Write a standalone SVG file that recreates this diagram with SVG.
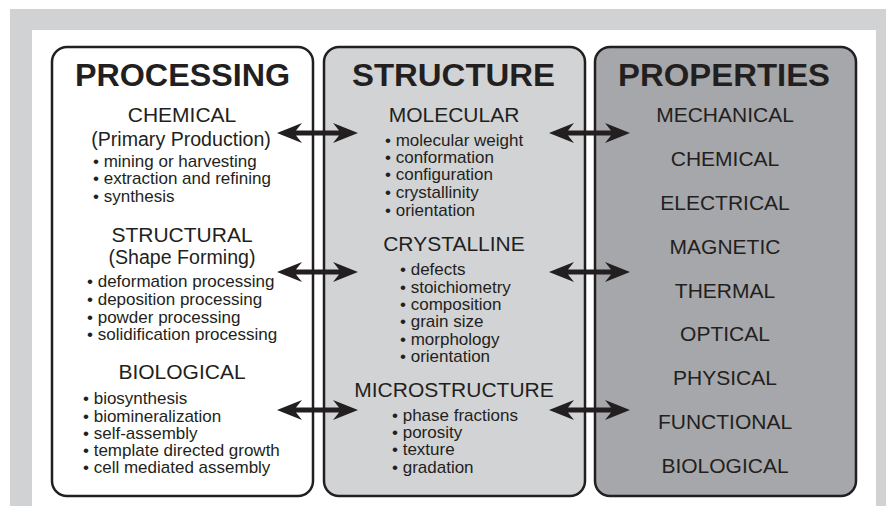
<svg xmlns="http://www.w3.org/2000/svg" width="886" height="506" viewBox="0 0 886 506">
<style>
.box{stroke:#231f20;stroke-width:2.5}
text{font-family:"Liberation Sans",Arial,sans-serif;fill:#231f20}
.t{font-weight:bold;font-size:32px;text-anchor:middle}
.h{font-size:21px;text-anchor:middle}
.p{font-size:19.6px;text-anchor:middle}
.b{font-size:17px}
.arrow{fill:#231f20}
</style>
<defs>
<path id="dbl" d="M0,0 L25,-10 L19,-2.5 L62,-2.5 L56,-10 L81,0 L56,10 L62,2.5 L19,2.5 L25,10 Z"/>
</defs>
<rect x="0" y="0" width="886" height="506" fill="#ffffff"/>
<rect x="10" y="9" width="876" height="497" fill="#d1d2d4"/>
<rect x="32" y="30" width="844" height="476" fill="#ffffff"/>

<g id="processing">
<rect class="box" x="52" y="47" width="261" height="449" rx="15" fill="#ffffff"/>
<text class="t" x="182.5" y="86" textLength="215" lengthAdjust="spacingAndGlyphs">PROCESSING</text>
<text class="h" x="182" y="122">CHEMICAL</text>
<text class="p" x="181" y="146">(Primary Production)</text>
<text class="b"><tspan x="93" y="167">• mining or harvesting</tspan><tspan x="93" y="184">• extraction and refining</tspan><tspan x="93" y="202">• synthesis</tspan></text>
<text class="h" x="182" y="242">STRUCTURAL</text>
<text class="p" x="182" y="264">(Shape Forming)</text>
<text class="b"><tspan x="87" y="287">• deformation processing</tspan><tspan x="87" y="305">• deposition processing</tspan><tspan x="87" y="323">• powder processing</tspan><tspan x="87" y="340">• solidification processing</tspan></text>
<text class="h" x="182" y="379">BIOLOGICAL</text>
<text class="b"><tspan x="83" y="404">• biosynthesis</tspan><tspan x="83" y="422">• biomineralization</tspan><tspan x="83" y="439">• self-assembly</tspan><tspan x="83" y="456">• template directed growth</tspan><tspan x="83" y="473">• cell mediated assembly</tspan></text>
</g>

<g id="structure">
<rect class="box" x="324" y="47" width="261" height="449" rx="15" fill="#d2d3d5"/>
<text class="t" x="453.5" y="86" textLength="203" lengthAdjust="spacingAndGlyphs">STRUCTURE</text>
<text class="h" x="454" y="122">MOLECULAR</text>
<text class="b"><tspan x="385" y="146">• molecular weight</tspan><tspan x="385" y="163">• conformation</tspan><tspan x="385" y="180">• configuration</tspan><tspan x="385" y="198">• crystallinity</tspan><tspan x="385" y="216">• orientation</tspan></text>
<text class="h" x="454" y="251">CRYSTALLINE</text>
<text class="b"><tspan x="400" y="275">• defects</tspan><tspan x="400" y="293">• stoichiometry</tspan><tspan x="400" y="310">• composition</tspan><tspan x="400" y="327">• grain size</tspan><tspan x="400" y="345">• morphology</tspan><tspan x="400" y="362">• orientation</tspan></text>
<text class="h" x="454" y="397">MICROSTRUCTURE</text>
<text class="b"><tspan x="392" y="421">• phase fractions</tspan><tspan x="392" y="438">• porosity</tspan><tspan x="392" y="455">• texture</tspan><tspan x="392" y="473">• gradation</tspan></text>
</g>

<g id="properties">
<rect class="box" x="595" y="47" width="261" height="449" rx="15" fill="#a6a7aa"/>
<text class="t" x="724" y="86" textLength="212" lengthAdjust="spacingAndGlyphs">PROPERTIES</text>
<text class="h" x="725" y="122">MECHANICAL</text>
<text class="h" x="725" y="166">CHEMICAL</text>
<text class="h" x="725" y="210">ELECTRICAL</text>
<text class="h" x="725" y="254">MAGNETIC</text>
<text class="h" x="725" y="298">THERMAL</text>
<text class="h" x="725" y="341">OPTICAL</text>
<text class="h" x="725" y="385">PHYSICAL</text>
<text class="h" x="725" y="429">FUNCTIONAL</text>
<text class="h" x="725" y="473">BIOLOGICAL</text>
</g>

<g id="connectors" class="arrow">
<use href="#dbl" x="277" y="133"/>
<use href="#dbl" x="277" y="272"/>
<use href="#dbl" x="277" y="410"/>
<use href="#dbl" x="549" y="133"/>
<use href="#dbl" x="549" y="272"/>
<use href="#dbl" x="549" y="410"/>
</g>
</svg>
